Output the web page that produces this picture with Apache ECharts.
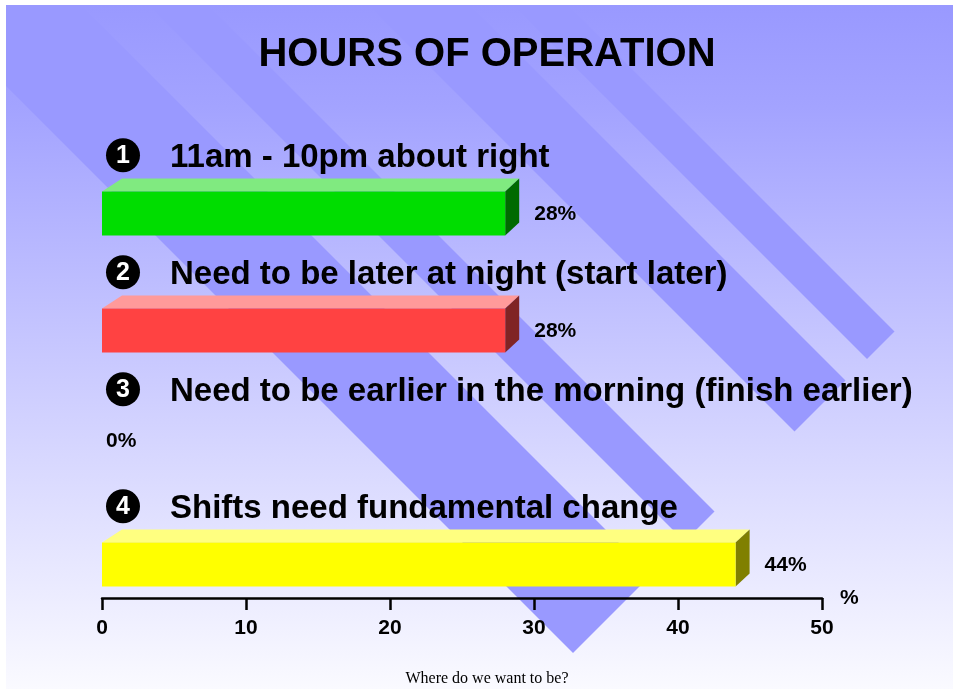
<!DOCTYPE html>
<html>
<head>
<meta charset="utf-8">
<title>Hours of operation</title>
<script src="https://cdn.jsdelivr.net/npm/echarts@6/dist/echarts.min.js"></script>
<style>
  html, body { margin: 0; padding: 0; background: #fff; }
  #chart { width: 953px; height: 689px; }
</style>
</head>
<body>
<div id="chart"></div>
<script>
var categories = [
  '11am - 10pm about right',
  'Need to be later at night (start later)',
  'Need to be earlier in the morning (finish earlier)',
  'Shifts need fundamental change'
];
var percents = [28, 28, 0, 44];
var xTicks = [0, 10, 20, 30, 40, 50];

var FONT = '"Liberation Sans", Arial, Helvetica, sans-serif';
// front / top / side colour of each 3D bar
var faceColors = [
  ['#00dd00', '#80ea80', '#006a00'],
  ['#ff4242', '#ff9a9a', '#802424'],
  ['#4242ff', '#9a9aff', '#242480'],
  ['#ffff00', '#ffff80', '#808000']
];

// background: gradient panel with 45 degree stripes cut along x + y = 1226
function stripe(a, b) {
  var cut = 1226, top = 5, left = 6;
  var pts = [];
  if (a + top < left) {
    pts.push([left, top]);
  } else {
    pts.push([a + top, top]);
  }
  pts.push([b + top, top]);
  pts.push([(cut + b) / 2, (cut - b) / 2]);
  pts.push([(cut + a) / 2, (cut - a) / 2]);
  if (a + top < left) pts.push([left, left - a]);
  return {
    type: 'polygon', z: -9, silent: true,
    shape: { points: pts },
    style: { fill: '#9999ff' }
  };
}

function renderBar(params, api) {
  var v = api.value(0), idx = api.value(1);
  var start = api.coord([0, idx]);
  var end = api.coord([v, idx]);
  var band = api.size([0, 1])[1];
  var h = band * 0.378;
  var yc = start[1], yT = yc - h / 2, yB = yc + h / 2;
  var x0 = start[0], x1 = end[0];
  var f = faceColors[idx];
  var kids = [];
  if (v > 0) {
    kids.push({ type: 'polygon', shape: { points: [[x0, yT], [x0 + 20, yT - 13], [x1 + 14, yT - 13], [x1, yT]] }, style: { fill: f[1] } });
    kids.push({ type: 'polygon', shape: { points: [[x1, yT], [x1 + 14, yT - 13], [x1 + 14, yB - 13], [x1, yB]] }, style: { fill: f[2] } });
    kids.push({ type: 'rect', shape: { x: x0, y: yT, width: x1 - x0, height: h }, style: { fill: f[0] } });
  }
  kids.push({
    type: 'text', x: v > 0 ? x1 + 29 : x1 + 4, y: v > 0 ? yc + 1 : yc - 6,
    style: { text: v + '%', font: 'bold 21px ' + FONT, fill: '#000', verticalAlign: 'middle' }
  });
  var ly = yc - band * 0.49;
  kids.push({ type: 'circle', shape: { cx: x0 + 21, cy: ly - 1, r: 17 }, style: { fill: '#000' } });
  kids.push({
    type: 'text', x: x0 + 21, y: ly,
    style: { text: String(idx + 1), font: 'bold 25px ' + FONT, fill: '#fff', align: 'center', verticalAlign: 'middle' }
  });
  kids.push({
    type: 'text', x: x0 + 68, y: ly + 2,
    style: { text: categories[idx], font: 'bold 33px ' + FONT, fill: '#000', verticalAlign: 'middle' }
  });
  return { type: 'group', children: kids };
}

var chart = echarts.init(document.getElementById('chart'));
chart.setOption({
  animation: false,
  graphic: [
    {
      type: 'rect', z: -10, silent: true,
      shape: { x: 6, y: 5, width: 947, height: 684 },
      style: {
        fill: new echarts.graphic.LinearGradient(0, 0, 0, 1, [
          { offset: 0, color: '#9999ff' },
          { offset: 0.15, color: '#a3a3ff' },
          { offset: 1, color: '#fafaff' }
        ])
      }
    },
    stripe(-80, 76),
    stripe(143, 203),
    stripe(363, 465),
    stripe(508, 563),
    {
      type: 'text', x: 487, y: 55, z: 5,
      style: { text: 'HOURS OF OPERATION', font: 'bold 40px ' + FONT, fill: '#000', align: 'center', verticalAlign: 'middle' }
    },
    {
      type: 'text', x: 487, y: 679, z: 5,
      style: { text: 'Where do we want to be?', font: '16px "Liberation Serif", "Times New Roman", serif', fill: '#000', align: 'center', verticalAlign: 'middle' }
    }
  ],
  grid: { left: 102, right: 131, top: 155, height: 468 },
  xAxis: {
    type: 'value',
    min: xTicks[0],
    max: xTicks[xTicks.length - 1],
    interval: xTicks[1] - xTicks[0],
    offset: -25,
    name: '%',
    nameLocation: 'end',
    nameGap: 18,
    nameTextStyle: { color: '#000', fontSize: 21, fontWeight: 'bold', fontFamily: FONT },
    axisLine: { show: true, lineStyle: { color: '#000', width: 2.5 } },
    axisTick: { show: true, length: 12, lineStyle: { color: '#000', width: 2.5 } },
    axisLabel: { color: '#000', fontSize: 21, fontWeight: 'bold', fontFamily: FONT, margin: 20 },
    splitLine: { show: false }
  },
  yAxis: {
    type: 'category',
    data: categories,
    inverse: true,
    show: false
  },
  series: [{
    type: 'custom',
    clip: false,
    renderItem: renderBar,
    encode: { x: 0, y: 1 },
    data: percents.map(function (v, i) { return [v, i]; })
  }]
});
</script>
</body>
</html>
